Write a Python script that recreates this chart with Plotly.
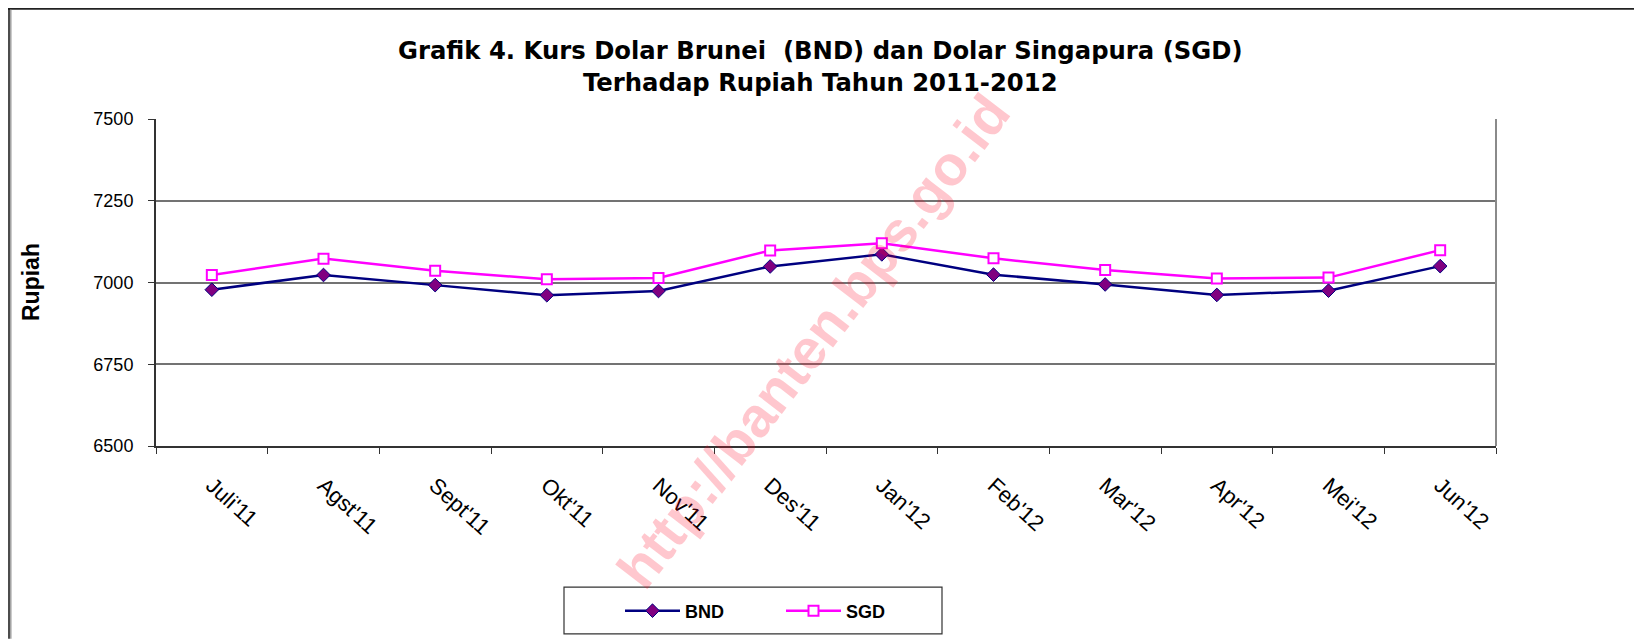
import plotly.graph_objects as go

months = ["Juli'11", "Agst'11", "Sept'11", "Okt'11", "Nov'11", "Des'11",
          "Jan'12", "Feb'12", "Mar'12", "Apr'12", "Mei'12", "Jun'12"]
bnd = [6978, 7023, 6992, 6961, 6974, 7049, 7086, 7024, 6994, 6962, 6975, 7050]
sgd = [7023, 7073, 7036, 7010, 7014, 7098, 7120, 7074, 7038, 7012, 7015, 7099]
y_ticks = [6500, 6750, 7000, 7250, 7500]

# page has an 8px body margin; figure coordinates = page coordinates - 8
OFF = 8
W, H = 1642 - OFF, 642 - OFF
PL, PR, PT, PB = 156, 1496, 119, 448  # plot area in page pixels
L, T = PL - OFF, PT - OFF
R, B = W - (PR - OFF), H - (PB - OFF)
PW, PH = PR - PL, PB - PT


def px(x):
    return (x - PL) / PW


def py(y):
    return (PB - y) / PH


fig = go.Figure()
fig.add_trace(go.Scatter(
    x=months, y=bnd, name="BND", mode="lines+markers",
    line=dict(color="#000080", width=2.5),
    marker=dict(symbol="diamond", size=10.5, color="#800080",
                line=dict(color="#000080", width=1)),
))
fig.add_trace(go.Scatter(
    x=months, y=sgd, name="SGD", mode="lines+markers",
    line=dict(color="#FF00FF", width=2.5),
    marker=dict(symbol="square", size=10, color="white",
                line=dict(color="#FF00FF", width=2)),
))

fig.update_layout(
    width=W, height=H,
    margin=dict(l=L, r=R, t=T, b=B),
    paper_bgcolor="white", plot_bgcolor="white",
    font=dict(family="Liberation Sans, Arial", color="black"),
    showlegend=True,
    legend=dict(orientation="h", x=px(620), y=py(614), xanchor="left", yanchor="middle",
                bgcolor="rgba(0,0,0,0)", borderwidth=0, itemwidth=55, entrywidth=91,
                font=dict(family="Liberation Sans, Arial", size=18, color="black", weight="bold")),
    xaxis=dict(
        type="category", range=[-0.5, 11.5],
        showgrid=False, showline=True, linecolor="#333333", linewidth=2,
        mirror=False, ticks="outside", tickson="boundaries", ticklen=6,
        tickcolor="#333333", tickangle=42, ticklabelstandoff=16,
        tickfont=dict(size=22, family="Liberation Sans, Arial"),
    ),
    yaxis=dict(
        range=[6500, 7500], tickvals=y_ticks,
        showgrid=True, gridcolor="#737373", gridwidth=1.5,
        showline=True, linecolor="#333333", linewidth=2,
        ticks="outside", ticklen=6, tickcolor="#333333",
        ticklabelstandoff=11, zeroline=False,
        tickfont=dict(size=18, family="Liberation Sans, Arial"),
    ),
)

# plot right border
fig.add_shape(type="line", xref="paper", yref="paper", x0=1, x1=1, y0=0, y1=1,
              line=dict(color="#8a8a8a", width=2))

# outer frame lines
fig.add_shape(type="line", xref="paper", yref="paper", x0=px(8), x1=px(1642), y0=py(8), y1=py(8),
              line=dict(color="#222222", width=2))
fig.add_shape(type="line", xref="paper", yref="paper", x0=px(9), x1=px(9), y0=py(8), y1=py(642),
              line=dict(color="#111111", width=1.5))
fig.add_shape(type="line", xref="paper", yref="paper", x0=px(10.8), x1=px(10.8), y0=py(9), y1=py(642),
              line=dict(color="#a0a0a0", width=1.5))

# legend box
fig.add_shape(type="rect", xref="paper", yref="paper",
              x0=px(564), x1=px(942), y0=py(637), y1=py(590),
              line=dict(color="#333333", width=1.2), fillcolor="rgba(0,0,0,0)")

# title
fig.add_annotation(text="Grafik 4. Kurs Dolar Brunei  (BND) dan Dolar Singapura (SGD)",
                   xref="paper", yref="paper", x=px(820), y=py(50), showarrow=False,
                   xanchor="center", yanchor="middle",
                   font=dict(family="DejaVu Sans", size=24.3, weight="bold", color="black"))
fig.add_annotation(text="Terhadap Rupiah Tahun 2011-2012",
                   xref="paper", yref="paper", x=px(820), y=py(82), showarrow=False,
                   xanchor="center", yanchor="middle",
                   font=dict(family="DejaVu Sans", size=24.3, weight="bold", color="black"))

# y axis title
fig.add_annotation(text="Rupiah", xref="paper", yref="paper", x=px(31), y=py(283),
                   showarrow=False, textangle=-90, xanchor="center", yanchor="middle",
                   font=dict(family="Liberation Sans, Arial", size=23, weight="bold", color="black"))

# watermark
fig.add_annotation(text="http://banten.bps.go.id", xref="paper", yref="paper",
                   x=px(813), y=py(343), showarrow=False, textangle=-52.5,
                   xanchor="center", yanchor="middle",
                   font=dict(family="Liberation Sans, Arial", size=56, weight="bold",
                             color="rgba(255,0,30,0.22)"))

fig.write_html("out.html")
